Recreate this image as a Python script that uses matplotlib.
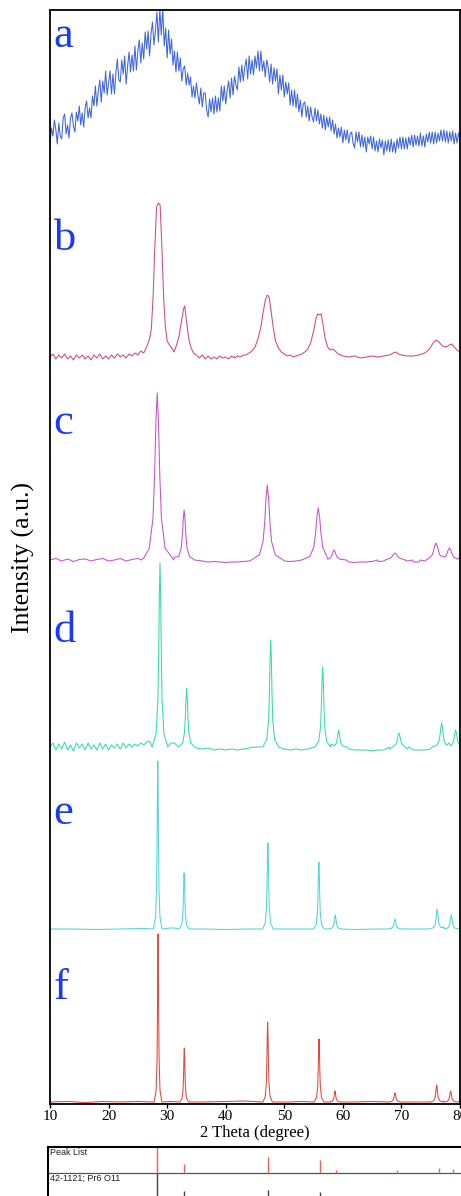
import numpy as np
import matplotlib.pyplot as plt

plt.rcParams['font.family'] = 'Liberation Serif'

# ---- data (intensity in arbitrary units, 1 unit ~ 1 px) ----
labels = ['a', 'b', 'c', 'd', 'e', 'f']
colors = ['#3d63e8', '#d6457f', '#c94fce', '#2fe0a0', '#4fd6d6', '#e8453c']
offsets = [944, 747, 544, 357, 175, 2]

# a: amorphous pattern, read every 0.25 deg
two_theta_a = np.arange(10, 80.01, 0.25)
intensity_a = [15, 32, 24, 40, 30, 16, 37, 24, 21, 42, 46, 26, 35, 22, 42, 47,
               34, 28, 48, 39, 54, 35, 47, 33, 52, 59, 42, 52, 42, 64, 54, 74,
               54, 69, 80, 58, 79, 67, 89, 65, 77, 89, 66, 86, 66, 87, 101, 80,
               78, 100, 86, 104, 76, 94, 108, 88, 105, 89, 114, 90, 109, 120, 97, 117,
               101, 128, 111, 129, 104, 126, 138, 115, 129, 148, 118, 151, 125, 152, 114, 132,
               102, 130, 106, 121, 95, 109, 88, 108, 89, 102, 79, 91, 94, 75, 87, 75,
               83, 63, 74, 62, 77, 65, 56, 72, 53, 67, 67, 50, 43, 61, 48, 62,
               46, 64, 48, 62, 49, 74, 59, 74, 56, 70, 79, 62, 82, 65, 84, 75,
               70, 93, 78, 95, 79, 93, 101, 81, 104, 86, 100, 85, 104, 92, 109, 89,
               109, 89, 99, 83, 100, 93, 78, 96, 76, 92, 79, 91, 66, 85, 70, 85,
               63, 78, 66, 77, 55, 70, 54, 70, 52, 66, 48, 60, 43, 56, 58, 43,
               54, 39, 53, 43, 38, 52, 39, 50, 36, 46, 32, 45, 30, 43, 33, 43,
               29, 40, 26, 36, 22, 32, 23, 33, 17, 30, 20, 30, 17, 26, 28, 17,
               12, 28, 18, 28, 13, 25, 13, 23, 8, 23, 16, 24, 11, 23, 9, 19,
               8, 21, 12, 20, 5, 19, 9, 20, 8, 21, 8, 18, 7, 21, 12, 23,
               11, 23, 11, 22, 11, 23, 15, 25, 13, 25, 15, 24, 14, 27, 14, 24,
               13, 26, 18, 28, 17, 28, 16, 28, 17, 27, 19, 30, 19, 30, 18, 29,
               17, 28, 19, 29, 16, 27, 17, 27, 20]

# b: broad peaks, read point by point
two_theta_b = [10.0, 10.5, 11.0, 11.5, 12.0, 12.5, 13.0, 13.5, 14.0, 14.5, 15.0, 15.5, 16.0, 16.5,
               17.0, 17.5, 18.0, 18.5, 19.0, 19.5, 20.0, 20.5, 21.0, 21.5, 22.0, 22.5, 23.0, 23.5,
               24.0, 24.5, 25.0, 25.5, 26.0, 26.5, 27.0, 27.3, 27.6, 27.9, 28.2, 28.5, 28.8, 29.1,
               29.4, 29.7, 30.0, 30.4, 30.8, 31.2, 31.6, 32.0, 32.4, 32.8, 33.0, 33.3, 33.7, 34.1,
               34.5, 35.0, 35.5, 36.0, 36.5, 37.0, 37.5, 38.0, 38.5, 39.0, 39.5, 40.0, 40.5, 41.0,
               41.5, 42.0, 42.5, 43.0, 43.5, 44.0, 44.5, 45.0, 45.5, 46.0, 46.4, 46.8, 47.1, 47.4,
               47.7, 48.1, 48.5, 49.0, 49.5, 50.0, 50.5, 51.0, 51.5, 52.0, 52.5, 53.0, 53.5, 54.0,
               54.5, 55.0, 55.4, 55.7, 56.0, 56.3, 56.6, 57.0, 57.4, 57.8, 58.3, 58.7, 59.2, 60.0,
               61.0, 62.0, 63.0, 64.0, 65.0, 66.0, 67.0, 68.0, 68.6, 69.0, 69.5, 70.0, 71.0, 72.0,
               73.0, 74.0, 74.8, 75.4, 75.9, 76.4, 77.0, 77.6, 78.2, 78.6, 79.0, 79.5, 80.0]
intensity_b = [0, 3, -2, 2, -1, 3, -2, 1, -3, 2, -1, 2, -2, 1,
               -3, 2, -1, 3, -2, 1, -2, 2, -1, 3, 0, 2, -1, 3,
               1, 4, 2, 6, 4, 10, 18, 28, 60, 110, 150, 154, 152, 110,
               60, 30, 16, 12, 9, 5, 12, 20, 34, 48, 51, 36, 18, 9,
               4, 2, -1, 2, -2, 1, -2, 0, -2, 1, -1, 0, -2, 1,
               -1, 1, 0, 2, 2, 4, 6, 10, 18, 30, 45, 58, 62, 60,
               48, 30, 16, 9, 5, 3, 1, 2, 0, 1, 2, 3, 5, 8,
               14, 26, 38, 43, 42, 43, 32, 18, 10, 7, 8, 6, 3, 1,
               0, 1, -1, 0, 1, 0, 1, 2, 4, 5, 3, 2, 1, 1,
               2, 4, 8, 14, 17, 15, 11, 10, 12, 13, 10, 7, 5]

# c-f: crystalline patterns, peak positions / heights / widths (FWHM)
peak_pos_c = [28.3, 32.9, 47.1, 55.8, 58.5, 68.9, 75.9, 78.2]
peak_h_c = [167, 50, 75, 52, 10, 7, 17, 12]
peak_w_c = [0.9, 0.6, 0.9, 0.95, 0.7, 1.0, 0.9, 0.9]

peak_pos_d = [28.78, 33.33, 47.68, 56.55, 59.28, 69.58, 76.87, 79.26]
peak_h_d = [184, 59, 107, 80, 17, 14, 24, 17]
peak_w_d = [0.45, 0.45, 0.45, 0.45, 0.45, 0.55, 0.55, 0.55]

peak_pos_e = [28.4, 32.9, 47.2, 55.9, 58.7, 68.9, 76.1, 78.5]
peak_h_e = [168, 56, 86, 67, 14, 10, 20, 14]
peak_w_e = [0.25, 0.28, 0.3, 0.3, 0.35, 0.4, 0.4, 0.4]

peak_pos_f = [28.45, 32.93, 47.16, 55.93, 58.66, 68.9, 76.02, 78.4]
peak_h_f = [168, 54, 80, 63, 11, 9, 17, 11]
peak_w_f = [0.22, 0.25, 0.27, 0.28, 0.3, 0.35, 0.35, 0.35]

# baseline readings between the peaks
base_x_c = [10, 11, 12, 13, 14, 15, 16, 17, 18, 19, 20, 21, 22, 23, 24, 25, 26, 30.8, 31.3,
            36, 37, 38, 39, 40, 41, 42, 43, 44, 50, 51, 52, 53, 61, 62, 63, 64, 65, 66, 67,
            71, 72, 73, 74, 77.2, 80]
base_y_c = [0, 1.5, -1, 1, -1.5, 0.5, 1, -1, 0.5, 1.5, -1, 0, 1.5, -1, 0.5, 1.5, 2, 3, 3,
            -1, -2, -1.5, -2, -2.5, -2, -2, -1.5, -1, -1, -1.5, -1, 0, -2, -2.5, -2, -2, -1.5, -1.5, -1,
            -1, -2, -2, -1, 4, 3]

base_x_d = list(np.arange(10, 27.01, 0.5)) + [30.6, 31.2, 35, 36, 37, 38, 39, 40, 41, 42, 43, 44, 45,
                                              50, 51, 52, 53, 54, 58, 61, 62, 63, 64, 65, 66, 67, 68,
                                              71, 72, 73, 74, 75, 78.1]
base_y_d = [0, 4, -3, 3, -2, 5, -3, 2, -4, 4, -1, 3, -3, 4, -2, 2, -3, 4, -2, 3,
            -3, 2, -1, 3, -2, 4, -1, 3, 0, 3, 1, 4, 2, 5, 6,
            4, 4, -1, -2, -1, -3, -2, -3, -2, -3, -2, -1, 0,
            -2, -3, -2, -3, -2, 3, -2, -3, -3, -3, -4, -3, -3, -2,
            -2, -3, -3, -3, -2, 4]

base_x_e = [10, 14, 18, 22, 26, 30.6, 31.2, 36, 40, 44, 50, 53, 62, 66, 72, 77.3, 80]
base_y_e = [0, 0, -0.5, 0, 0.5, 1, 1, 0, -0.5, 0, 0, 0, -0.5, 0, 0, 2, 1]

base_x_f = [10, 13, 16, 19, 22, 25, 30.7, 36, 40, 43, 51, 53, 62, 65, 72, 77.2, 80]
base_y_f = [0, 0.5, -0.5, 0.5, 0, 0.5, 0.5, 0, 0.5, 1, 0, 0.5, 0, 0.5, 0, 1, 0.5]

# peak shape (offset in FWHM units, fraction of height)
profile_dx = [-3, -1.5, -0.8, -0.5, -0.25, 0, 0.25, 0.5, 0.8, 1.5, 3]
profile_frac = [0, 0.07, 0.25, 0.5, 0.82, 1, 0.82, 0.5, 0.25, 0.07, 0]

# JCPDS 42-1121 Pr6O11 peak list
stick_pos = [28.4, 32.93, 47.16, 55.95, 58.7, 68.95, 76.1, 78.5]
stick_measured = [1.0, 0.35, 0.62, 0.5, 0.12, 0.12, 0.2, 0.15]
stick_card = [1.0, 0.32, 0.35, 0.27, 0.08, 0.05, 0.08, 0.06]


def build_pattern(pos, height, width, bx, by):
    pos = np.asarray(pos, dtype=float)
    width = np.asarray(width, dtype=float)
    xs, ys = [], []
    for i, (p, h, w) in enumerate(zip(pos, height, width)):
        px = p + np.asarray(profile_dx) * w
        py = h * np.asarray(profile_frac)
        others = np.delete(pos, i)
        # keep the part of each profile that lies nearer its own peak
        keep = [np.all(np.abs(x - p) <= np.abs(x - others)) for x in px]
        xs.extend(px[keep])
        ys.extend(py[keep])
    for x, y in zip(bx, by):
        if np.all(np.abs(x - pos) > 1.5 * width):
            xs.append(x)
            ys.append(y)
    order = np.argsort(xs)
    return np.asarray(xs)[order], np.asarray(ys)[order]


patterns = [
    (two_theta_a, np.asarray(intensity_a, dtype=float)),
    (np.asarray(two_theta_b), np.asarray(intensity_b, dtype=float)),
    build_pattern(peak_pos_c, peak_h_c, peak_w_c, base_x_c, base_y_c),
    build_pattern(peak_pos_d, peak_h_d, peak_w_d, base_x_d, base_y_d),
    build_pattern(peak_pos_e, peak_h_e, peak_w_e, base_x_e, base_y_e),
    build_pattern(peak_pos_f, peak_h_f, peak_w_f, base_x_f, base_y_f),
]
label_y = [1057, 854, 670, 462, 280, 105]

W, H = 461, 1196
fig = plt.figure(figsize=(W / 100, H / 100), dpi=100)
ax = fig.add_axes([50 / W, 92 / H, 410 / W, 1094 / H])

for (x, y), off, col, lab, ly in zip(patterns, offsets, colors, labels, label_y):
    ax.plot(x, y + off, color=col, lw=0.75)
    ax.text(10.6, ly, lab, fontsize=32, color='#1a3af5', va='baseline', ha='left')

ax.set_xlim(10, 80)
ax.set_ylim(0, 1094)
ax.set_xticks(range(10, 81, 10))
ax.set_yticks([])
ax.tick_params(axis='x', direction='out', length=3, width=1, labelsize=11, pad=1)
for s in ax.spines.values():
    s.set_linewidth(1.3)
ax.set_xlabel('2 Theta (degree)', fontsize=12, labelpad=2)
ax.set_ylabel('Intensity (a.u.)', fontsize=18.5, labelpad=11)

# peak list strip below
ax2 = fig.add_axes([48 / W, -3 / H, 414 / W, 52 / H])
ax2.set_xlim(10, 80)
ax2.set_ylim(0, 2)
ax2.axhline(1, color='#555555', lw=0.9)
ax2.vlines(stick_pos, 1, [1 + h for h in stick_measured], color='#ff5a5a', lw=1)
ax2.vlines(stick_pos, 0, stick_card, color='#444444', lw=1)
ax2.set_xticks([])
ax2.set_yticks([])
for s in ax2.spines.values():
    s.set_linewidth(1.5)
ax2.text(0.006, 0.985, 'Peak List', transform=ax2.transAxes, va='top', ha='left',
         fontsize=6.5, family='Liberation Sans', color='#222222')
ax2.text(0.006, 0.485, '42-1121; Pr6 O11', transform=ax2.transAxes, va='top', ha='left',
         fontsize=6.5, family='Liberation Sans', color='#222222')

fig.savefig('out.png', dpi=100)
